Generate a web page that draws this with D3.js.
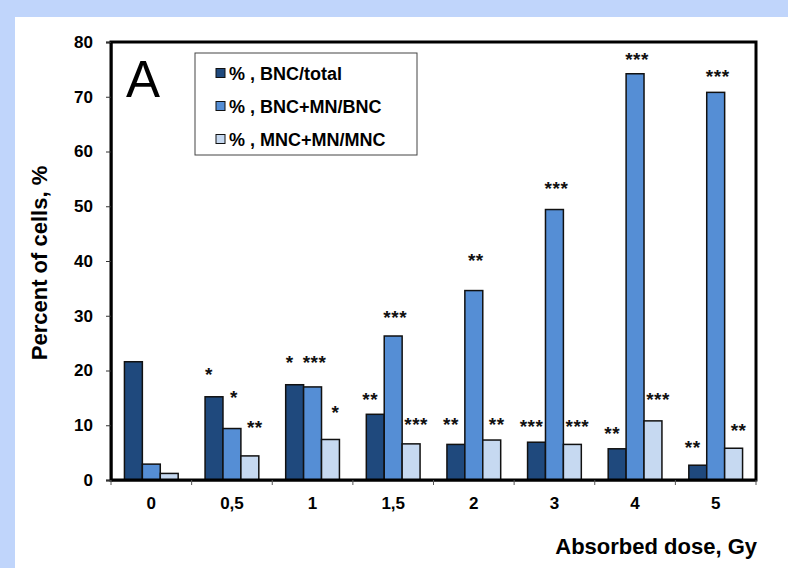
<!DOCTYPE html>
<html>
<head>
<meta charset="utf-8">
<script src="https://cdn.jsdelivr.net/npm/d3@7"></script>
<style>
  body { margin: 0; background: #fff; }
  svg { display: block; font-family: "Liberation Sans", Arial, sans-serif; }
</style>
</head>
<body>
<svg id="chart" width="788" height="568"></svg>
<script>
// ===== data =====
const doses = ["0", "0,5", "1", "1,5", "2", "3", "4", "5"];
const seriesNames = ["% , BNC/total", "% , BNC+MN/BNC", "% , MNC+MN/MNC"];

const bncTotal = [21.6, 15.2, 17.4, 12.0, 6.5, 6.9, 5.7, 2.7];
const bncMn    = [2.9, 9.4, 17.0, 26.3, 34.6, 49.4, 74.2, 70.8];
const mncMn    = [1.2, 4.4, 7.4, 6.6, 7.3, 6.5, 10.8, 5.8];

// significance marks and the level (in %) where each sits
const bncTotalStars = ["", "*", "*", "**", "**", "***", "**", "**"];
const bncMnStars    = ["", "*", "***", "***", "**", "***", "***", "***"];
const mncMnStars    = ["", "**", "*", "***", "**", "***", "***", "**"];
const bncTotalStarAt = [0, 20.1, 22.3, 15.5, 11.0, 10.6, 9.3, 6.8];
const bncMnStarAt    = [0, 15.9, 22.3, 30.5, 40.9, 54.1, 77.6, 74.6];
const mncMnStarAt    = [0, 10.5, 13.2, 11.0, 11.0, 10.6, 15.5, 9.9];

const yTicks = [0, 10, 20, 30, 40, 50, 60, 70, 80];

const colors = ["#1f497d", "#558ed5", "#c6d9f1"];

// ===== layout =====
const W = 788, H = 568;
const plot = { left: 111, right: 756, top: 42, bottom: 480 };

const svg = d3.select("#chart");

// light blue slide frame on top / left
svg.append("rect").attr("width", W).attr("height", H).attr("fill", "#c0d5fb");
svg.append("rect").attr("x", 15).attr("y", 17).attr("width", W - 15).attr("height", H - 17).attr("fill", "#fff");

const x0 = d3.scaleBand().domain(doses).range([plot.left, plot.right]).padding(0);
const x1 = d3.scaleBand().domain([0, 1, 2]).range([0, x0.bandwidth()])
    .paddingInner(0).paddingOuter(0.75);
const y = d3.scaleLinear().domain([0, 80]).range([plot.bottom, plot.top]);

const series = [
    { values: bncTotal, stars: bncTotalStars, at: bncTotalStarAt, shift: -5 },
    { values: bncMn, stars: bncMnStars, at: bncMnStarAt, shift: 2 },
    { values: mncMn, stars: mncMnStars, at: mncMnStarAt, shift: 5 }
];

// bars
const groups = svg.append("g").selectAll("g")
    .data(doses)
    .join("g")
    .attr("transform", d => `translate(${x0(d)},0)`);

groups.selectAll("rect")
    .data((d, i) => series.map((s, k) => ({ k, v: s.values[i] })))
    .join("rect")
    .attr("x", d => x1(d.k))
    .attr("y", d => y(d.v))
    .attr("width", x1.bandwidth())
    .attr("height", d => plot.bottom - y(d.v))
    .attr("fill", d => colors[d.k])
    .attr("stroke", "#111")
    .attr("stroke-width", 1.5);

// stars
groups.selectAll("text")
    .data((d, i) => series.map((s, k) => ({ k, s: s.stars[i], at: s.at[i], shift: s.shift })).filter(d => d.s))
    .join("text")
    .attr("x", d => x1(d.k) + x1.bandwidth() / 2 + d.shift)
    .attr("y", d => y(d.at) + 11)
    .attr("text-anchor", "middle")
    .attr("font-size", 19)
    .attr("font-weight", "bold")
    .attr("letter-spacing", 0.5)
    .attr("fill", "#111")
    .text(d => d.s);

// plot frame
svg.append("rect")
    .attr("x", plot.left).attr("y", plot.top)
    .attr("width", plot.right - plot.left).attr("height", plot.bottom - plot.top)
    .attr("fill", "none").attr("stroke", "#000").attr("stroke-width", 3);

// y axis
const yAxis = svg.append("g")
    .attr("transform", `translate(${plot.left},0)`)
    .call(d3.axisLeft(y).tickValues(yTicks).tickSize(5).tickPadding(13));
yAxis.select(".domain").attr("stroke", "#000").attr("stroke-width", 2);
yAxis.selectAll(".tick line").attr("stroke", "#333");
yAxis.selectAll(".tick text")
    .attr("font-size", 17).attr("font-weight", "bold").attr("fill", "#000")
    .attr("font-family", "'Liberation Sans', Arial, sans-serif");

// x axis: labels in bands, ticks at band edges
const xAxis = svg.append("g")
    .attr("transform", `translate(0,${plot.bottom})`)
    .call(d3.axisBottom(x0).tickSize(0).tickPadding(17));
xAxis.select(".domain").attr("stroke", "#000").attr("stroke-width", 2);
xAxis.selectAll(".tick text")
    .attr("font-size", 17).attr("font-weight", "bold").attr("fill", "#000")
    .attr("font-family", "'Liberation Sans', Arial, sans-serif");
xAxis.selectAll("line.edge")
    .data(doses.map(d => x0(d)).concat([plot.right]))
    .join("line")
    .attr("class", "edge")
    .attr("x1", d => d).attr("x2", d => d)
    .attr("y1", 0).attr("y2", 5)
    .attr("stroke", "#555").attr("stroke-width", 1);

// axis titles
svg.append("text")
    .attr("transform", "translate(47,263) rotate(-90)")
    .attr("text-anchor", "middle")
    .attr("font-size", 22).attr("font-weight", "bold")
    .text("Percent of cells, %");

svg.append("text")
    .attr("x", 757).attr("y", 554)
    .attr("text-anchor", "end")
    .attr("font-size", 22).attr("font-weight", "bold")
    .text("Absorbed dose, Gy");

// panel letter
svg.append("text")
    .attr("x", 126).attr("y", 97)
    .attr("font-size", 51)
    .text("A");

// legend
const legend = svg.append("g");
legend.append("rect")
    .attr("x", 195).attr("y", 53).attr("width", 222).attr("height", 102)
    .attr("fill", "#fff").attr("stroke", "#444").attr("stroke-width", 1);

const rows = legend.selectAll("g.row")
    .data(seriesNames)
    .join("g")
    .attr("class", "row")
    .attr("transform", (d, i) => `translate(216,${73 + i * 33})`);
rows.append("rect")
    .attr("x", 0).attr("y", -4.5).attr("width", 9).attr("height", 9)
    .attr("fill", (d, i) => colors[i]).attr("stroke", "#111").attr("stroke-width", 1);
rows.append("text")
    .attr("x", 13).attr("y", 6.5)
    .attr("font-size", 18).attr("font-weight", "bold")
    .text(d => d);
</script>
</body>
</html>
